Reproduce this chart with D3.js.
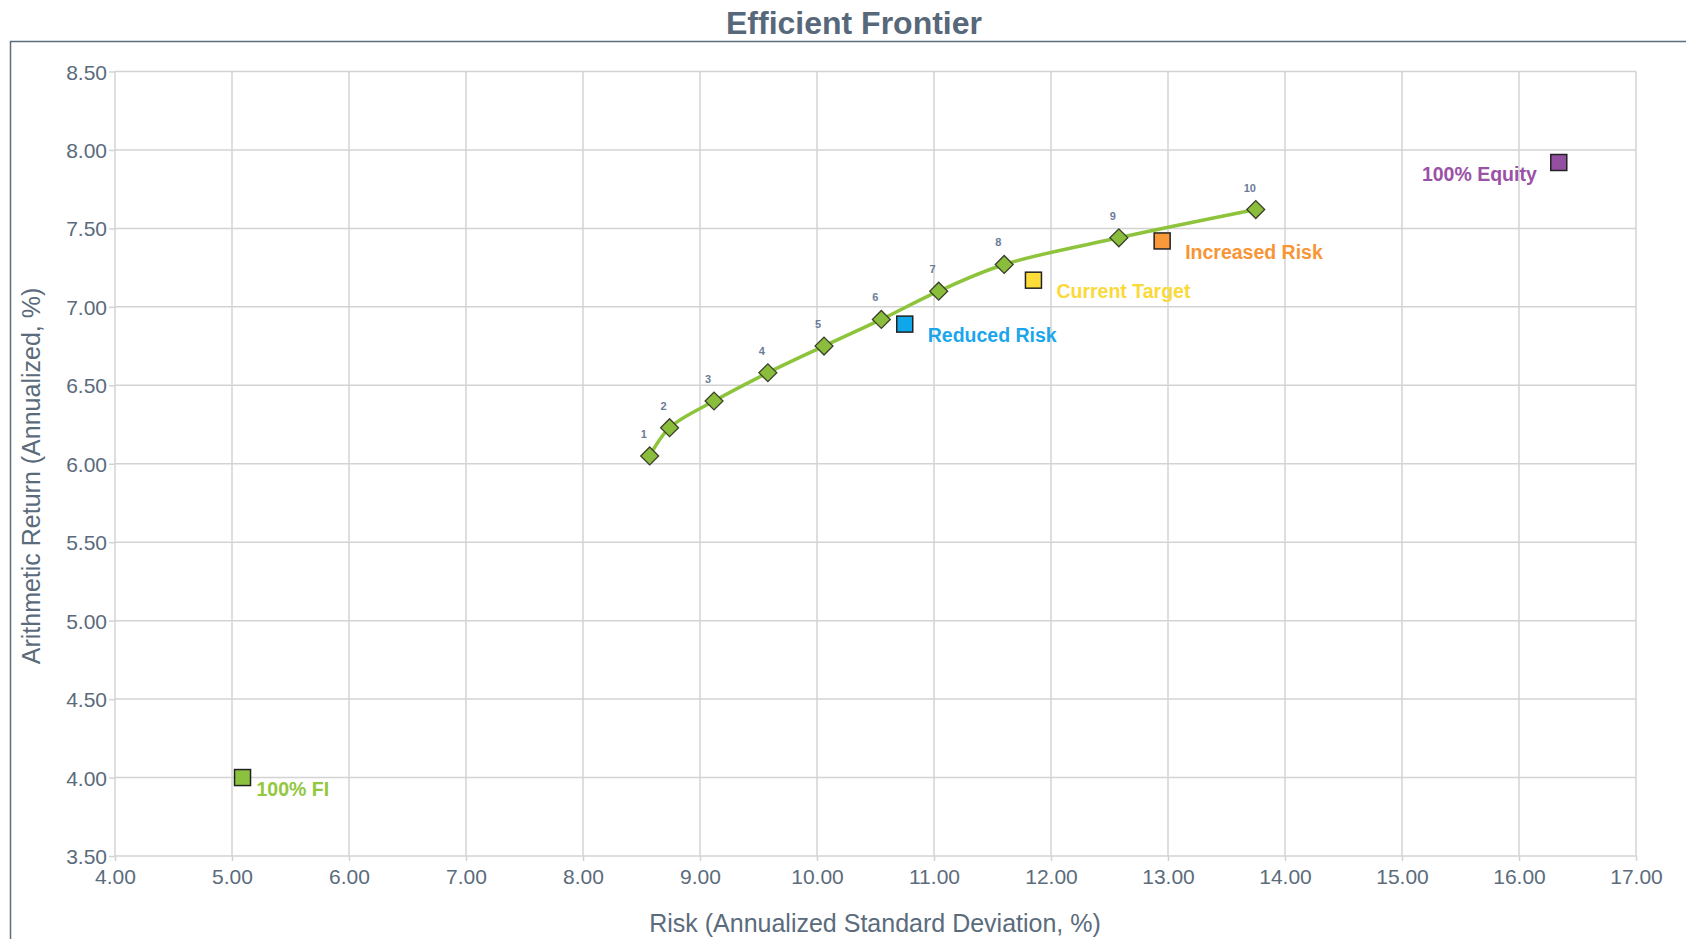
<!DOCTYPE html>
<html>
<head>
<meta charset="utf-8">
<script src="https://cdn.jsdelivr.net/npm/d3@7"></script>
<style>
  html, body { margin: 0; padding: 0; background: #fff; }
  svg { display: block; font-family: "Liberation Sans", Arial, sans-serif; }
</style>
</head>
<body>
<svg id="chart" width="1686" height="939"></svg>
<script>
// ---- data ----
const frontierLabels = ["1","2","3","4","5","6","7","8","9","10"];
const frontierRisk   = [8.57, 8.74, 9.12, 9.58, 10.06, 10.55, 11.04, 11.60, 12.58, 13.75];
const frontierReturn = [6.05, 6.23, 6.40, 6.58, 6.75, 6.92, 7.10, 7.27, 7.44, 7.62];

const portfolioNames  = ["100% FI", "Reduced Risk", "Current Target", "Increased Risk", "100% Equity"];
const portfolioRisk   = [5.09, 10.75, 11.85, 12.95, 16.34];
const portfolioReturn = [4.00, 6.89, 7.17, 7.42, 7.92];
const portfolioColors = ["#8cc13f", "#0ea7ea", "#fedd3a", "#f9993a", "#9450a0"];
const labelColors     = ["#92c83e", "#1ba6ec", "#fad93a", "#f79537", "#9a52a6"];

const xTicks = [4,5,6,7,8,9,10,11,12,13,14,15,16,17];
const yTicks = [3.5,4,4.5,5,5.5,6,6.5,7,7.5,8,8.5];

const chartTitle = "Efficient Frontier";
const xTitle = "Risk (Annualized Standard Deviation, %)";
const yTitle = "Arithmetic Return (Annualized, %)";

// ---- layout ----
const svg = d3.select("#chart");
const textColor = "#5a6b7c";
const gridColor = "#d3d3d3";

const x = d3.scaleLinear().domain([4, 17]).range([115, 1636]);
const y = d3.scaleLinear().domain([3.5, 8.5]).range([856, 71.5]);

// outer border (only top and left visible)
svg.append("rect")
  .attr("x", 10.5).attr("y", 41.5)
  .attr("width", 1700).attr("height", 1000)
  .attr("fill", "none").attr("stroke", "#5c6d7e").attr("stroke-width", 1.5);

// title
svg.append("text")
  .attr("x", 854).attr("y", 34)
  .attr("text-anchor", "middle")
  .attr("font-size", 32).attr("font-weight", "bold")
  .attr("fill", "#56687a")
  .text(chartTitle);

// gridlines
const grid = svg.append("g");
grid.selectAll("line.v").data(xTicks).join("line")
  .attr("x1", d => x(d)).attr("x2", d => x(d))
  .attr("y1", y(8.5)).attr("y2", y(3.5))
  .attr("stroke", gridColor).attr("stroke-width", 1.5);
grid.selectAll("line.h").data(yTicks).join("line")
  .attr("y1", d => y(d)).attr("y2", d => y(d))
  .attr("x1", x(4)).attr("x2", x(17))
  .attr("stroke", gridColor).attr("stroke-width", 1.5);

// axes
const xAxis = d3.axisBottom(x).tickValues(xTicks).tickFormat(d3.format(".2f")).tickSize(5).tickPadding(8);
const yAxis = d3.axisLeft(y).tickValues(yTicks).tickFormat(d3.format(".2f")).tickSize(6).tickPadding(2);

const gx = svg.append("g").attr("transform", `translate(0,${y(3.5)})`).call(xAxis);
const gy = svg.append("g").attr("transform", `translate(${x(4)},0)`).call(yAxis);
[gx, gy].forEach(g => {
  g.select(".domain").remove();
  g.selectAll(".tick line").attr("stroke", gridColor).attr("stroke-width", 1.5);
  g.selectAll(".tick text").attr("fill", textColor).attr("font-size", 21)
    .attr("font-family", "'Liberation Sans', Arial, sans-serif");
});
gy.selectAll(".tick text").attr("dy", "0.36em");

// axis titles
svg.append("text")
  .attr("x", 875).attr("y", 932)
  .attr("text-anchor", "middle")
  .attr("font-size", 25).attr("fill", textColor)
  .text(xTitle);
svg.append("text")
  .attr("transform", `translate(40,${476}) rotate(-90)`)
  .attr("text-anchor", "middle")
  .attr("font-size", 25).attr("fill", textColor)
  .text(yTitle);

// frontier line
const frontier = frontierRisk.map((r, i) => ({ r, ret: frontierReturn[i], label: frontierLabels[i] }));
const line = d3.line().x(d => x(d.r)).y(d => y(d.ret)).curve(d3.curveCatmullRom.alpha(0.5));
svg.append("path")
  .datum(frontier)
  .attr("d", line)
  .attr("fill", "none")
  .attr("stroke", "#8dc43c")
  .attr("stroke-width", 3.5);

// diamonds
const diamond = d3.symbol().type(d3.symbolSquare).size(160);
svg.selectAll("path.dm").data(frontier).join("path")
  .attr("class", "dm")
  .attr("d", diamond)
  .attr("transform", d => `translate(${x(d.r)},${y(d.ret)}) rotate(45)`)
  .attr("fill", "#8abd3b")
  .attr("stroke", "#3a3f2a")
  .attr("stroke-width", 1.3);

svg.selectAll("text.fl").data(frontier).join("text")
  .attr("class", "fl")
  .attr("x", d => x(d.r) - 6)
  .attr("y", d => y(d.ret) - 18)
  .attr("text-anchor", "middle")
  .attr("font-size", 11).attr("font-weight", "bold")
  .attr("fill", "#6b7c98")
  .text(d => d.label);

// portfolios
const portfolios = portfolioNames.map((n, i) => ({
  name: n, r: portfolioRisk[i], ret: portfolioReturn[i],
  color: portfolioColors[i], lc: labelColors[i]
}));
const sq = 16;
svg.selectAll("rect.pf").data(portfolios).join("rect")
  .attr("class", "pf")
  .attr("x", d => x(d.r) - sq / 2)
  .attr("y", d => y(d.ret) - sq / 2)
  .attr("width", sq).attr("height", sq)
  .attr("fill", d => d.color)
  .attr("stroke", "#222").attr("stroke-width", 1.5);

svg.selectAll("text.pl").data(portfolios).join("text")
  .attr("class", "pl")
  .attr("x", (d, i) => i === 0 ? x(d.r) + 14 : (i === 4 ? x(d.r) - 22 : x(d.r) + 23))
  .attr("y", d => y(d.ret) + 18)
  .attr("text-anchor", (d, i) => i === 4 ? "end" : "start")
  .attr("font-size", 19.5).attr("font-weight", "bold")
  .attr("fill", d => d.lc)
  .text(d => d.name);
</script>
</body>
</html>
